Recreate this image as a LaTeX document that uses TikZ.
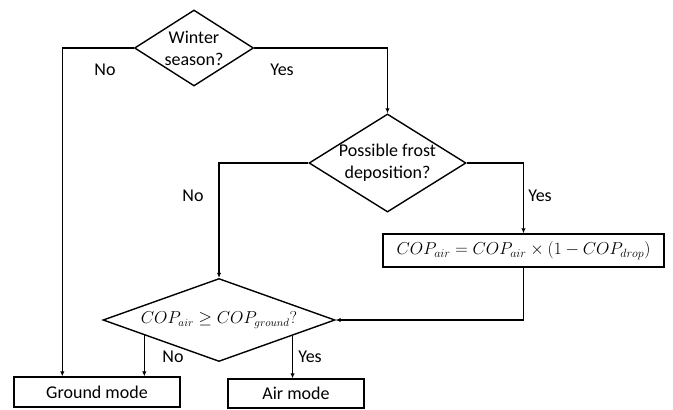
\documentclass[tikz,border=0pt]{standalone}
\usepackage{amsmath,amsfonts}
\usepackage{fontspec}
\setmainfont{Carlito}
\usetikzlibrary{positioning,calc,shapes.geometric,arrows.meta}

\begin{document}
\begin{tikzpicture}[
            x=1pt, y=-1pt,
            font=\fontsize{18}{22}\selectfont,
            decision/.style={diamond,draw,line width=1.4pt,inner sep=0pt,align=center},
            mode box/.style={rectangle,draw,line width=1.4pt,inner sep=0pt},
            branch label/.style={inner sep=0pt},
            flow/.style={draw,line width=1.4pt,-{Latex[length=5pt,width=4.5pt]}},
        ]
            \useasboundingbox (0,0) rectangle (673,410);

            \node[decision, aspect=1.57, minimum width=119pt, minimum height=76pt] (winter) at (194,48) {Winter\\season?};
            \node[decision, aspect=1.6, minimum width=157pt, minimum height=98pt] (frost) at (387.5,163) {Possible frost\\deposition?};
            \node[mode box, minimum width=281pt, minimum height=33pt] (update) at (523.5,250.5) {$COP_{air} = COP_{air} \times (1 - COP_{drop})$};
            \node[decision, aspect=2.8, minimum width=232pt, minimum height=83pt, font=\fontsize{16}{20}\selectfont] (check) at (219,320) {$COP_{air} \geq COP_{ground}?$};
            \node[mode box, minimum width=166pt, minimum height=30pt] (ground) at (97,392) {Ground mode};
            \node[mode box, minimum width=136pt, minimum height=29pt] (air) at (296,393.5) {Air mode};

            \node[branch label] (winter no) at (105,70) {No};
            \node[branch label] (winter yes) at (282,70) {Yes};
            \node[branch label] (frost no) at (193,196) {No};
            \node[branch label] (frost yes) at (540,196) {Yes};
            \node[branch label] (check no) at (173,357) {No};
            \node[branch label] (check yes) at (310,357) {Yes};

            \coordinate (ground drop) at ($(ground.north west)+(49,0)$);
            \coordinate (check left) at ($(check.west)!0.36!(check.south)$);
            \coordinate (check right) at ($(check.south)!0.63!(check.east)$);

            \draw[flow] (winter.west) -| (ground drop);
            \draw[flow] (winter.east) -| (frost.north);
            \draw[flow] (frost.west) -| (check.north);
            \draw[flow] (frost.east) -| (update.north);
            \draw[flow] (update.south) |- (check.east);
            \draw[flow] (check left) -- (check left |- ground.north);
            \draw[flow] (check right) -- (check right |- air.north);
        \end{tikzpicture}
\end{document}
